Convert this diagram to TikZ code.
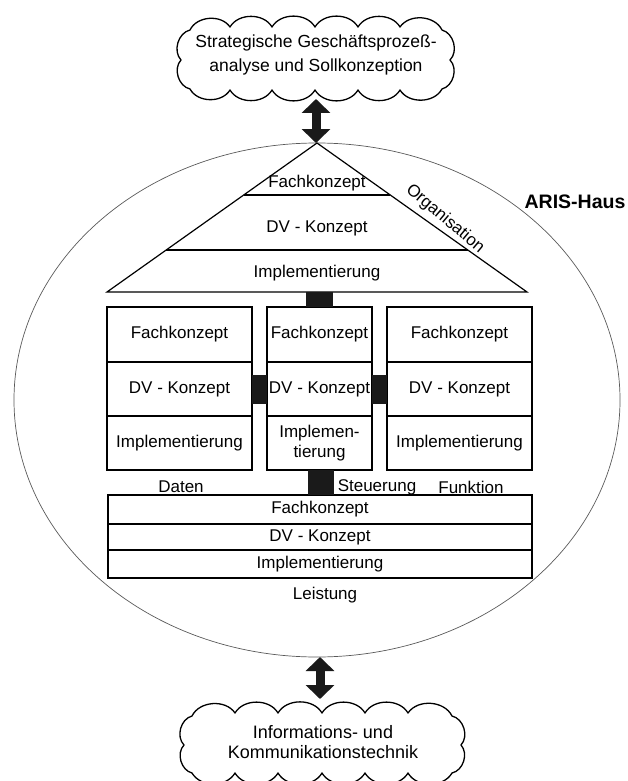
\documentclass[tikz,border=0pt]{standalone}
\usepackage{fontspec}
\setmainfont{Liberation Sans}
\usetikzlibrary{arrows.meta,shapes.geometric,calc}
\definecolor{barcol}{HTML}{1A1A1A}
\begin{document}
\begin{tikzpicture}[x=1pt,y=-1pt,
  every node/.style={font=\fontsize{17}{20}\selectfont, inner sep=0pt, outer sep=0pt},
  cell/.style={draw, line width=1.1pt},
  bar/.style={draw=barcol, line width=#1},
  dbl/.style={line width=9pt, draw=barcol,
    {Triangle[length=14pt,width=28pt]}-{Triangle[length=14pt,width=28pt]}},
  cloudline/.style={line width=1.3pt, fill=white, line join=round},
  bump/.style={bend left=60},
]
\useasboundingbox (0,0) rectangle (627,781);

% the house outline
\node[draw=black!65, line width=0.7pt, ellipse, minimum width=606pt, minimum height=514pt] (house) at (317,400) {};

% upper cloud
\draw[cloudline] (190,30) to[bump] (230,27) to[bump] (272,27) to[bump] (315,27)
  to[bump] (358,27) to[bump] (400,27) to[bump] (442,30) to[bump] (450,60)
  to[bump] (442,89) to[bump] (400,90) to[bump] (358,90) to[bump] (315,90)
  to[bump] (272,90) to[bump] (230,90) to[bump] (190,89) to[bump] (181,60)
  to[bump] (190,30) -- cycle;
\node[align=center, font=\fontsize{17.5}{24}\selectfont] (tc) at (316,55)
  {Strategische Geschäftsprozeß-\\analyse und Sollkonzeption};
\coordinate (tcb) at (316,99);

% lower cloud
\draw[cloudline] (192,716) to[bump] (235,713) to[bump] (278,713) to[bump] (322,713)
  to[bump] (365,713) to[bump] (408,713) to[bump] (452,716) to[bump] (461,745)
  to[bump] (452,773) to[bump] (408,773) to[bump] (365,773) to[bump] (322,773)
  to[bump] (278,773) to[bump] (235,773) to[bump] (192,773) to[bump] (184,745)
  to[bump] (192,716) -- cycle;
\node[align=center, font=\fontsize{18}{20}\selectfont] (bc) at (323,742)
  {Informations- und\\Kommunikationstechnik};
\coordinate (bct) at (320,699);

% double arrows between clouds and house
\draw[dbl] (tcb) -- (tcb |- house.north);
\draw[dbl] (bct |- house.south) -- (bct);

% roof: Organisation
\draw[line width=1.2pt, line join=miter]
  (317,143) coordinate (apex) -- (527,292) coordinate (rr) -- (107,292) coordinate (rl) -- cycle;
\draw[line width=1.2pt] ($(apex)!0.349!(rl)$) -- ($(apex)!0.349!(rr)$);
\draw[line width=1.2pt] ($(apex)!0.718!(rl)$) -- ($(apex)!0.718!(rr)$);
\node (rf) at (317,183) {Fachkonzept};
\node (rd) at (317,228) {DV - Konzept};
\node (ri) at (317,273) {Implementierung};
\node[rotate=-40] (org) at (445,219) {Organisation};
\node[font=\bfseries\fontsize{19.5}{22}\selectfont] (aris) at (575,202) {ARIS-Haus};

% columns: Daten, Steuerung, Funktion
\node[cell, minimum width=145pt, minimum height=55pt] (d1) at (179.5,334.5) {Fachkonzept};
\node[cell, minimum width=145pt, minimum height=54pt] (d2) at (179.5,389) {DV - Konzept};
\node[cell, minimum width=145pt, minimum height=54pt] (d3) at (179.5,443) {Implementierung};
\node[cell, minimum width=105pt, minimum height=55pt] (s1) at (319.5,334.5) {Fachkonzept};
\node[cell, minimum width=105pt, minimum height=54pt] (s2) at (319.5,389) {DV - Konzept};
\node[cell, minimum width=105pt, minimum height=54pt, align=center] (s3) at (319.5,443) {Implemen-\\tierung};
\node[cell, minimum width=145pt, minimum height=55pt] (f1) at (459.5,334.5) {Fachkonzept};
\node[cell, minimum width=145pt, minimum height=54pt] (f2) at (459.5,389) {DV - Konzept};
\node[cell, minimum width=145pt, minimum height=54pt] (f3) at (459.5,443) {Implementierung};

% base: Leistung
\node[cell, minimum width=424pt, minimum height=29pt] (l1) at (320,509.5) {Fachkonzept};
\node[cell, minimum width=424pt, minimum height=26pt] (l2) at (320,537) {DV - Konzept};
\node[cell, minimum width=424pt, minimum height=28pt] (l3) at (320,564) {Implementierung};

% black links between the views
\draw[bar=27pt] (s1.north) -- (s1.north |- rl);
\draw[bar=29pt] (d2.east) -- (s2.west);
\draw[bar=29pt] (s2.east) -- (f2.west);
\draw[bar=26pt] ([xshift=1.5pt]s3.south) -- ([xshift=1.5pt]s3.south |- l1.north);

% view labels
\node (daten) at (181,487) {Daten};
\node (steu) at (377,487) {Steuerung};
\node (funk) at (471,487) {Funktion};
\node (leist) at (325,595) {Leistung};
\end{tikzpicture}
\end{document}
